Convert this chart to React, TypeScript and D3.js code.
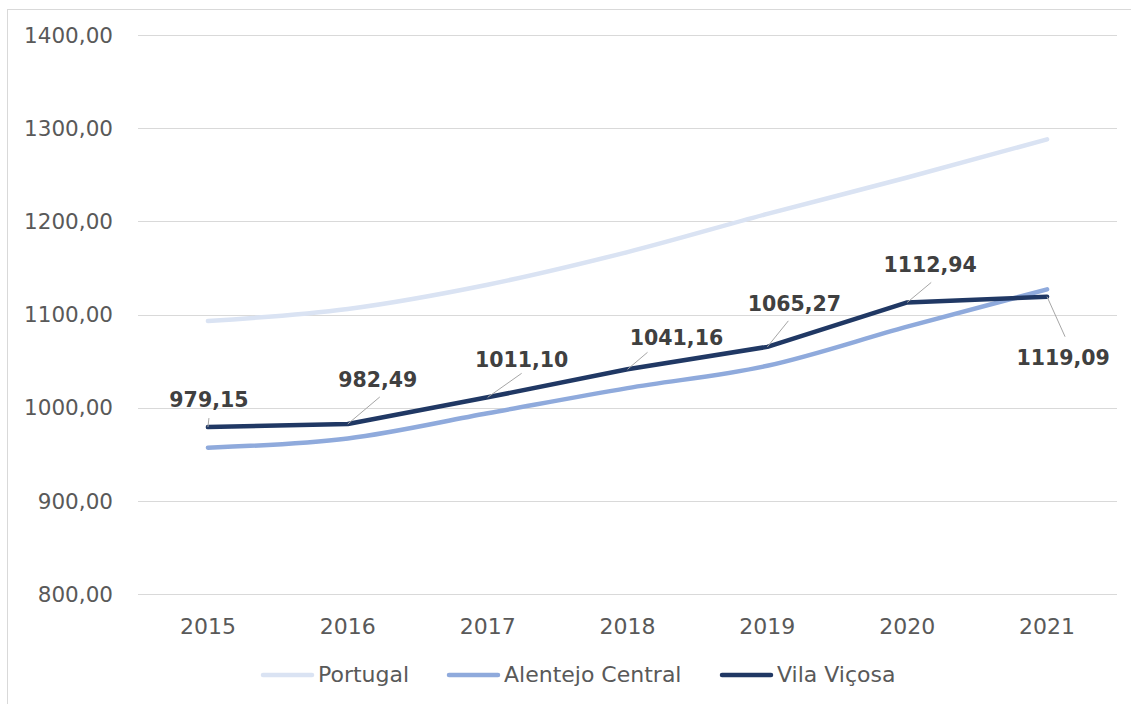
import React, { useEffect, useRef } from "react";
import * as d3 from "d3";

const years = ["2015", "2016", "2017", "2018", "2019", "2020", "2021"];
const portugal = [1093, 1106, 1132, 1167, 1208, 1247, 1288];
const alentejoCentral = [957, 967, 994, 1021, 1045, 1087, 1127];
const vilaVicosa = [979.15, 982.49, 1011.1, 1041.16, 1065.27, 1112.94, 1119.09];
const yTicks = [800, 900, 1000, 1100, 1200, 1300, 1400];
const seriesNames = ["Portugal", "Alentejo Central", "Vila Viçosa"];

// label offsets for vila viçosa data labels (dx, dy of label centre/baseline, leader end)
const labelOffsets = [
  { dx: 1, dy: -20, lx: 1, ly: -9 },
  { dx: 30, dy: -37, lx: 32, ly: -27 },
  { dx: 34, dy: -30, lx: 34, ly: -24 },
  { dx: 49, dy: -24, lx: 20, ly: -17 },
  { dx: 27, dy: -36, lx: 21, ly: -26 },
  { dx: 23, dy: -30, lx: 24, ly: -20 },
  { dx: 16, dy: 68, lx: 18, ly: 40 },
];

const W = 1131;
const H = 704;
const FONT = "'DejaVu Sans', sans-serif";

export default function App() {
  const ref = useRef<SVGSVGElement>(null);

  useEffect(() => {
    const svg = d3.select(ref.current);
    svg.selectAll("*").remove();

    //BORDER
    svg.append("rect")
      .attr("x", 7.5).attr("y", 9.5)
      .attr("width", W + 10).attr("height", H + 10)
      .attr("fill", "#fff").attr("stroke", "#d9d9d9");

    const x = d3.scaleBand().domain(years).range([138, 1117]);
    const cx = (d: string) => (x(d) as number) + x.bandwidth() / 2;
    const y = d3.scaleLinear().domain([800, 1400]).range([594, 35]);

    //GRID + Y LABELS
    const g = svg.append("g");
    yTicks.forEach((t) => {
      g.append("line")
        .attr("x1", 138).attr("x2", 1117)
        .attr("y1", Math.round(y(t)) + 0.5).attr("y2", Math.round(y(t)) + 0.5)
        .attr("stroke", "#d9d9d9").attr("stroke-width", 1);
      g.append("text")
        .attr("x", 113).attr("y", y(t))
        .attr("dy", "0.36em")
        .attr("text-anchor", "end")
        .attr("font-family", FONT).attr("font-size", 21.5)
        .attr("fill", "#595959")
        .text(d3.format(".2f")(t).replace(".", ","));
    });

    //X LABELS
    years.forEach((yr) => {
      g.append("text")
        .attr("x", cx(yr)).attr("y", 634)
        .attr("text-anchor", "middle")
        .attr("font-family", FONT).attr("font-size", 22)
        .attr("fill", "#595959")
        .text(yr);
    });

    const colors = ["#dae3f3", "#8faadc", "#203864"];
    const data = [portugal, alentejoCentral, vilaVicosa];

    const smooth = d3.line<number>()
      .x((_, i) => cx(years[i]))
      .y((d) => y(d))
      .curve(d3.curveMonotoneX);
    const straight = d3.line<number>()
      .x((_, i) => cx(years[i]))
      .y((d) => y(d));

    data.forEach((vals, si) => {
      svg.append("path")
        .datum(vals)
        .attr("fill", "none")
        .attr("stroke", colors[si])
        .attr("stroke-width", 4.5)
        .attr("stroke-linecap", "round")
        .attr("stroke-linejoin", "round")
        .attr("d", si === 2 ? straight(vals) : smooth(vals));
    });

    //DATA LABELS
    vilaVicosa.forEach((v, i) => {
      const px = cx(years[i]);
      const py = y(v);
      const o = labelOffsets[i];
      svg.append("line")
        .attr("x1", px).attr("y1", py)
        .attr("x2", px + o.lx).attr("y2", py + o.ly)
        .attr("stroke", "#a6a6a6").attr("stroke-width", 1);
      svg.append("text")
        .attr("x", px + o.dx).attr("y", py + o.dy)
        .attr("text-anchor", "middle")
        .attr("font-family", FONT).attr("font-size", 20.5)
        .attr("font-weight", "bold")
        .attr("fill", "#404040")
        .text(d3.format(".2f")(v).replace(".", ","));
    });

    //LEGEND
    const legendX = [263, 449, 722];
    seriesNames.forEach((name, i) => {
      svg.append("line")
        .attr("x1", legendX[i]).attr("x2", legendX[i] + 49)
        .attr("y1", 675).attr("y2", 675)
        .attr("stroke", colors[i]).attr("stroke-width", 4.5)
        .attr("stroke-linecap", "round");
      svg.append("text")
        .attr("x", legendX[i] + 55).attr("y", 682)
        .attr("font-family", FONT).attr("font-size", 22)
        .attr("fill", "#595959")
        .text(name);
    });
  }, []);

  return (
    <div style={{ position: "absolute", left: 0, top: 0 }}>
      <svg ref={ref} width={W} height={H} style={{ display: "block" }} />
    </div>
  );
}
